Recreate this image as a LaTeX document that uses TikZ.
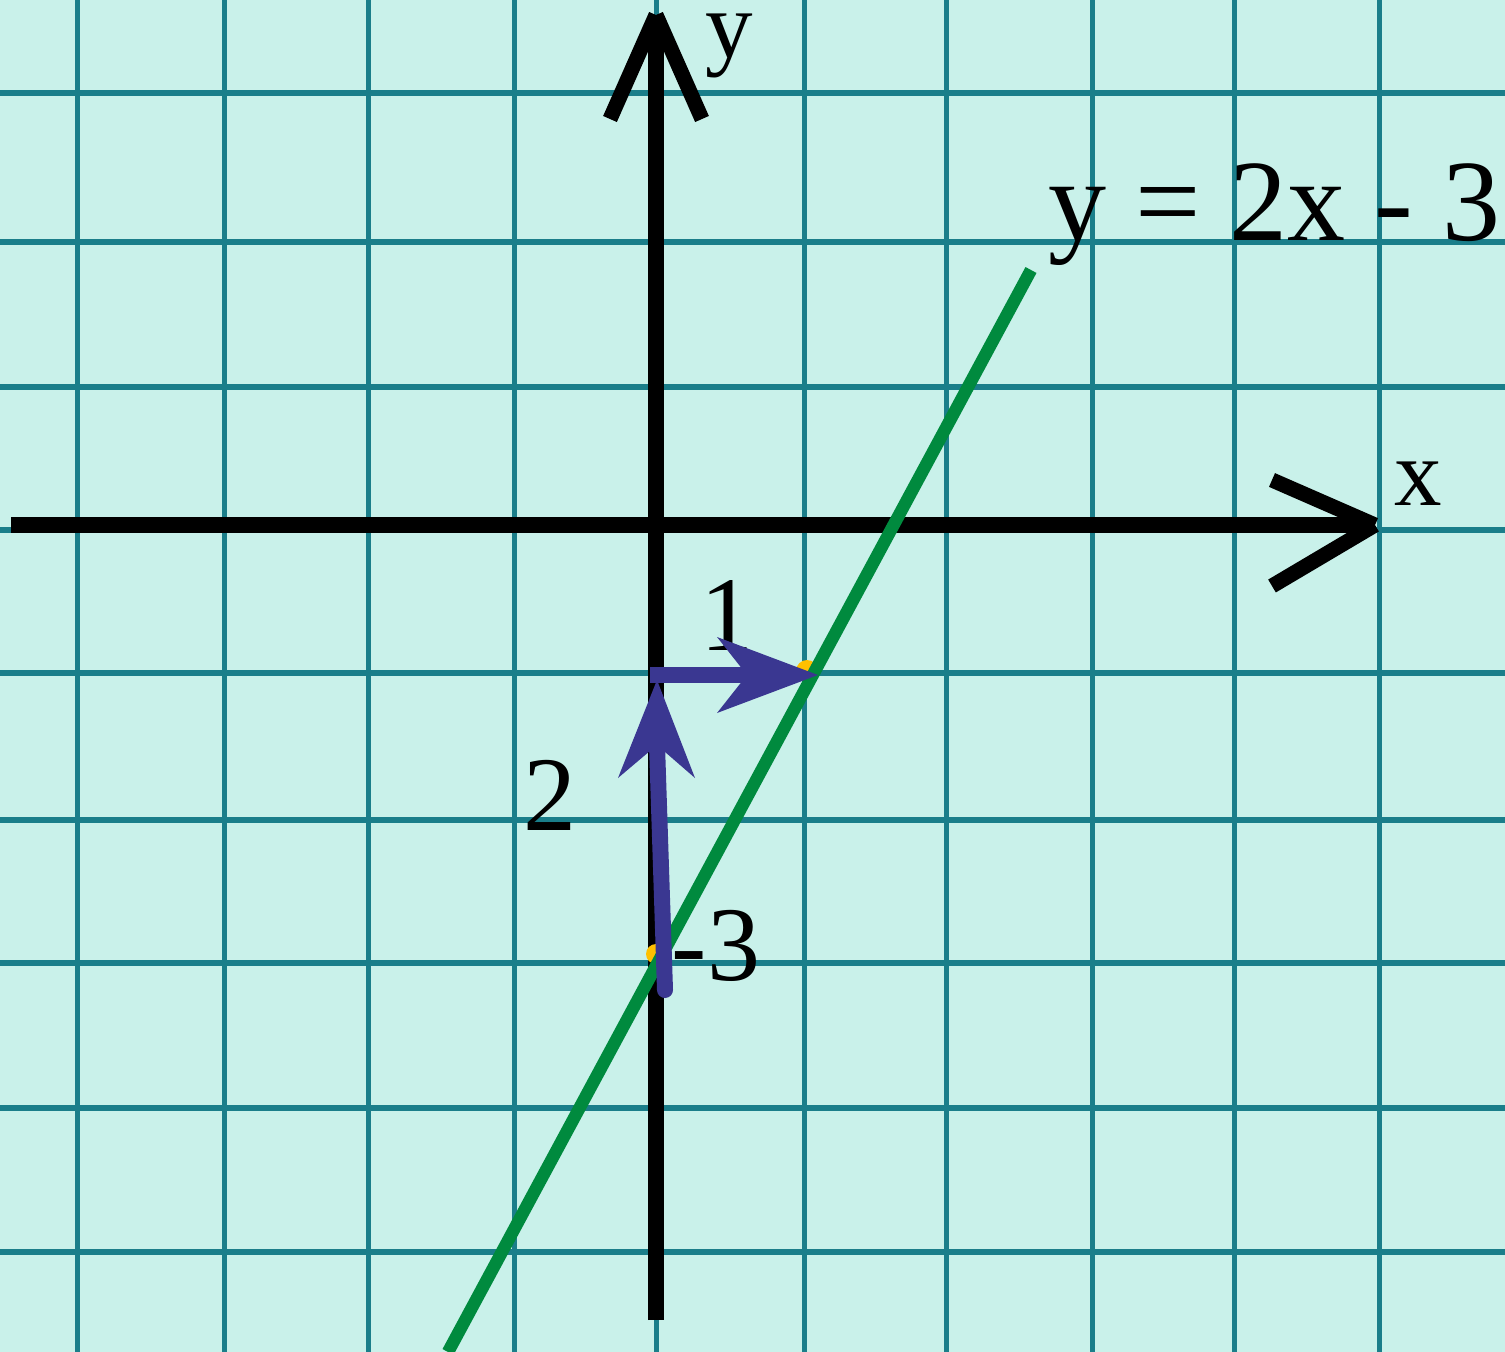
\documentclass[tikz,border=0pt]{standalone}
\usepackage{fontspec}
\setmainfont{Liberation Serif}
\definecolor{bg}{RGB}{201,241,234}
\definecolor{gridc}{RGB}{26,126,138}
\definecolor{lineg}{RGB}{0,138,62}
\definecolor{arrb}{RGB}{58,55,145}
\definecolor{dotY}{RGB}{255,192,0}
\tikzset{
  gridv/.style={draw=gridc, line width=5pt},
  gridh/.style={draw=gridc, line width=6pt},
  axis/.style={draw=black, line width=16pt},
  axarm/.style={draw=black, line width=15pt, line cap=butt},
  graphline/.style={draw=lineg, line width=12.5pt, line cap=butt},
  stepshaft/.style={draw=arrb, line width=16pt},
  stephead/.style={fill=arrb, draw=none},
  ydot/.style={fill=dotY, draw=none},
  axlabel/.style={inner sep=0pt, anchor=base west, text height=45pt, text depth=21pt, font=\fontsize{95}{95}\selectfont},
  eqlabel/.style={inner sep=0pt, anchor=base west, font=\fontsize{116}{116}\selectfont},
  numlabel/.style={inner sep=0pt, anchor=base, font=\fontsize{106}{106}\selectfont}
}
\begin{document}
\begin{tikzpicture}[x=1pt,y=-1pt]
\useasboundingbox (0,0) rectangle (1505,1352);
\fill[bg] (0,0) rectangle (1505,1352);
% grid
\foreach \x in {77,224,368,514,656,804,946,1092,1234,1379}
  \draw[gridv] (\x,0) -- (\x,1352);
\foreach \y in {93,242,387,530,673,820,963,1108,1252}
  \draw[gridh] (0,\y) -- (1505,\y);
% axes
\coordinate (xstart) at (11,525);
\coordinate (xtip) at (1375,525);
\coordinate (ybot) at (656,1320);
\coordinate (ytip) at (656,15);
\draw[axis] (xstart) -- (xtip);
\draw[axis] (ybot) -- (ytip);
\draw[axarm] (ytip) -- (610,119);
\draw[axarm] (ytip) -- (702,119);
\draw[axarm] (xtip) -- (1272,480);
\draw[axarm] (xtip) -- (1272,586);
\node[axlabel] (ylab) at (705,57) {y};
\node[axlabel] (xlab) at (1394,505) {x};
% equation label
\node[eqlabel] (eq) at (1048,240) {y = 2x - 3};
% yellow points
\coordinate (P0) at (656,954);
\coordinate (P1) at (807,671);
\fill[ydot] (P0) circle (10);
\fill[ydot] (P1) circle (11);
% graph line
\coordinate (gA) at (448,1352);
\coordinate (gB) at (1031,270);
\draw[graphline] (gA) -- (gB);
% labels
\node[numlabel] (one) at (727,650) {1};
\node[numlabel] (two) at (550,830) {2};
\node[numlabel] (mthree) at (716,980) {-3};
% blue step arrows
\coordinate (vbot) at (665,990);
\coordinate (vnotch) at (657,745);
\coordinate (vtip) at (657,680);
\coordinate (hstart) at (650,675);
\coordinate (hnotch) at (750,675);
\coordinate (htip) at (818,675);
\draw[stepshaft, line cap=round] (vbot) -- (vnotch);
\fill[stephead] (vtip) -- (618,778) -- (vnotch) -- (695,778) -- cycle;
\draw[stepshaft, line cap=butt] (hstart) -- (hnotch);
\fill[stephead] (htip) -- (717,637) -- (747,675) -- (717,713) -- cycle;
\end{tikzpicture}
\end{document}
